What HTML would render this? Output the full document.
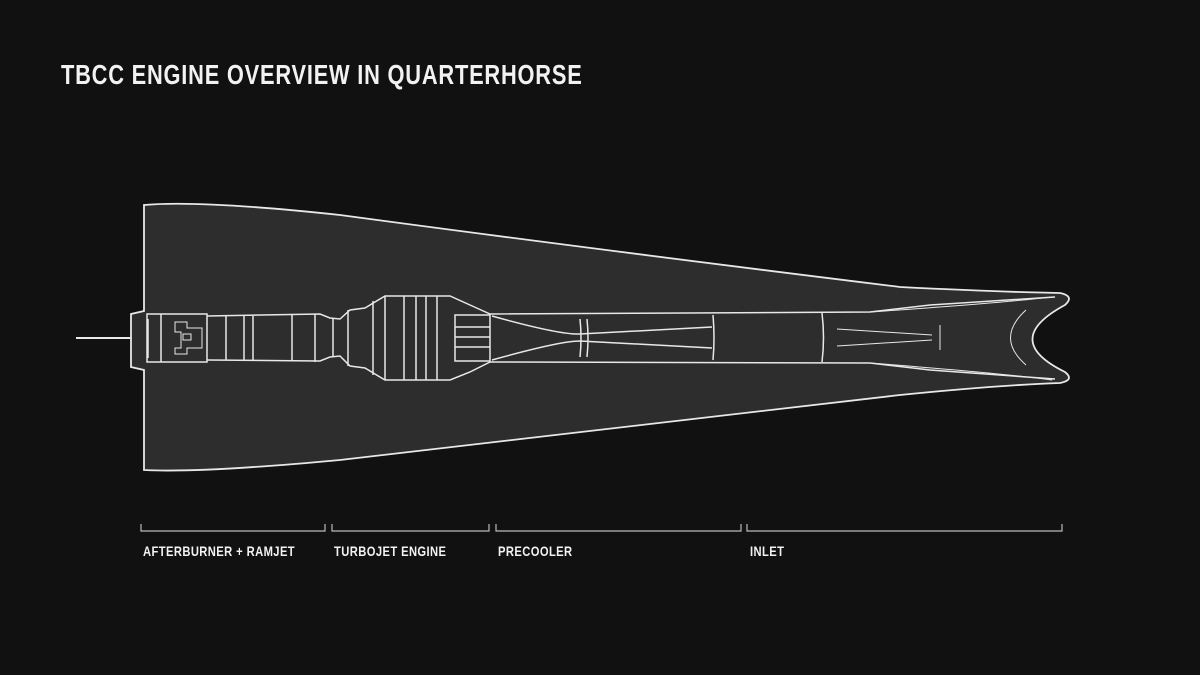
<!DOCTYPE html>
<html><head><style>
body{margin:0;background:#111;width:1200px;height:675px;overflow:hidden}
.t{position:absolute;font-family:"Liberation Sans Narrow","Liberation Sans",sans-serif;font-weight:bold;color:#f2f2f2}
</style></head><body>
<div class="t" style="left:61px;top:59px;font-size:28px;letter-spacing:1px;transform:scaleX(0.78);transform-origin:left">TBCC ENGINE OVERVIEW IN QUARTERHORSE</div>
<svg width="1200" height="675" style="position:absolute;left:0;top:0" fill="none" stroke="#e8e8e8" stroke-width="1.3">
<path d="M76 338 L131 338" stroke-width="2"/>
<path d="M144 205 Q200 200 340 215 Q600 250 900 287 Q1000 292 1060 293 Q1075 296 1065 305 Q1000 340 1065 372 Q1075 380 1060 383 Q1000 385 900 395 Q600 430 340 460 Q200 473 144 470 L144 370 L131 367 L131 314 L144 311 Z" fill="#2d2d2d" stroke-width="1.8"/>
<g stroke-width="1.5">
<path d="M147 314 L207 314 L207 362 L147 362 Z"/>
<path d="M207 316 L320 314 L330 318 L340 319 L350 310 L365 308 L385 296 L450 296 L470 305 L490 314 L870 312 L930 305 L1055 297"/>
<path d="M207 360 L320 361 L330 357 L340 356 L350 366 L365 368 L385 380 L450 380 L470 372 L490 362 L870 363 L930 370 L1055 379"/>
<path d="M175 322 h12 v6 h15 v20 h-15 v6 h-12 v-6 h6 v-16 h-6z M183 334 h8 v6 h-8z" stroke-width="1"/>
<path d="M161 314 V362 M148 319 V358 M226 316 V360 M244 316 V360 M253 316 V360 M292 315 V360 M315 314 V362 M333 318 V357 M348 310 V366 M373 301 V375 M385 296 V380 M404 296 V380 M416 296 V380 M426 296 V380 M437 296 V380"/>
<path d="M455 315 H490 V361 H455 Z M455 327 H490 M455 337 H490 M455 347 H490"/>
<path d="M492 316 Q560 335 580 334 L712 327 M492 360 Q560 341 580 341 L712 348 M580 319 Q582 338 580 357 M587 319 Q589 338 587 357 M713 315 Q715 338 713 360 M822 313 Q825 338 822 362"/>
<path d="M837 329 L932 335 M837 346 L932 340 M940 325 V350 M1026 310 Q995 338 1026 365" stroke-width="1"/>
<path d="M870 312 Q1000 303 1052 297 M870 363 Q1000 373 1052 380" stroke-width="1"/>
</g>
<g stroke="#bbb" stroke-width="1.2">
<path d="M141 524 V531 H325 V524 M332 524 V531 H489 V524 M496 524 V531 H741 V524 M747 524 V531 H1062 V524"/>
</g>
</svg>
<div class="t" style="left:143px;top:543px;font-size:14px;letter-spacing:0.5px;transform:scaleX(0.8);transform-origin:left">AFTERBURNER + RAMJET</div>
<div class="t" style="left:334px;top:543px;font-size:14px;letter-spacing:0.5px;transform:scaleX(0.8);transform-origin:left">TURBOJET ENGINE</div>
<div class="t" style="left:498px;top:543px;font-size:14px;letter-spacing:0.5px;transform:scaleX(0.8);transform-origin:left">PRECOOLER</div>
<div class="t" style="left:750px;top:543px;font-size:14px;letter-spacing:0.5px;transform:scaleX(0.8);transform-origin:left">INLET</div>
</body></html>
